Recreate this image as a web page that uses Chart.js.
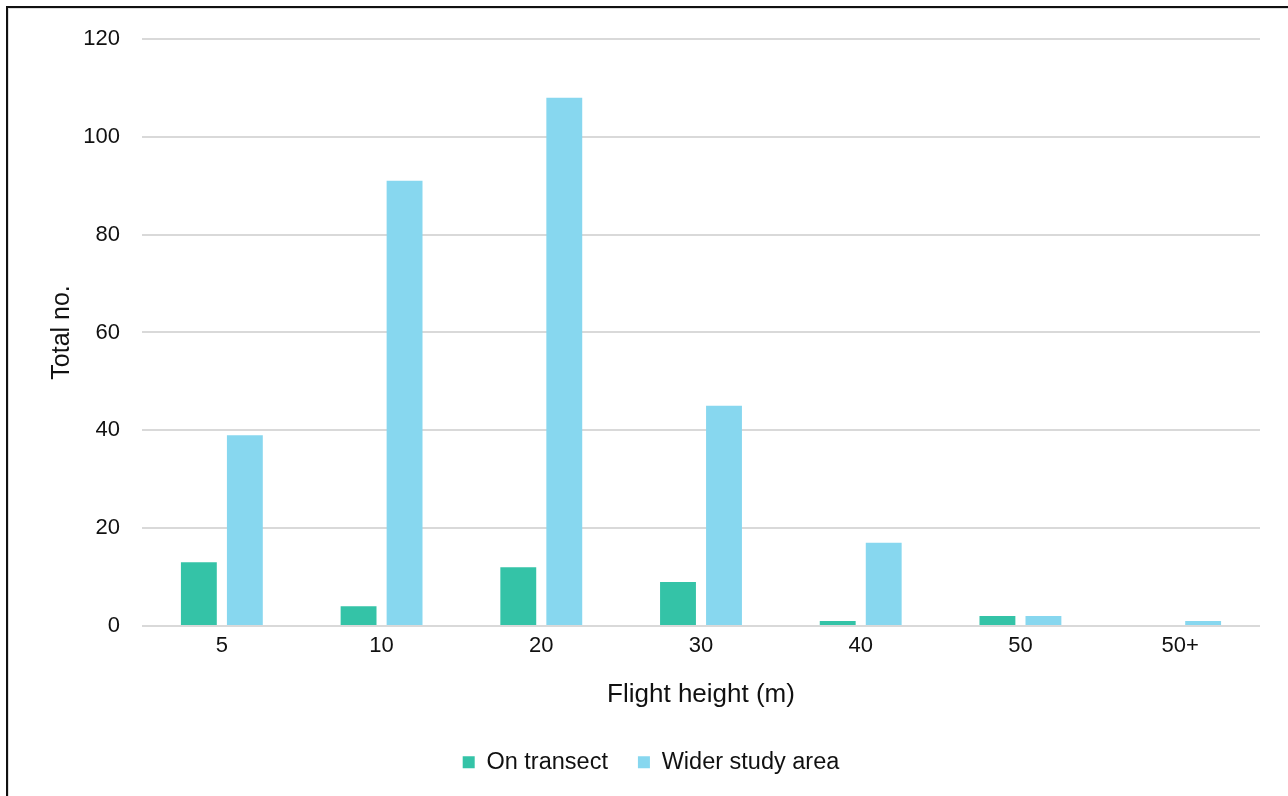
<!DOCTYPE html>
<html>
<head>
<meta charset="utf-8">
<script src="https://cdn.jsdelivr.net/npm/chart.js@4/dist/chart.umd.min.js"></script>
<style>
  html, body { margin: 0; padding: 0; background: #fff; }
  #wrap { position: relative; width: 1288px; height: 796px; }
  #frame { position: absolute; left: 6px; top: 6px; right: 0; bottom: 0;
           border-left: 2px solid #111; border-top: 2px solid #111; pointer-events: none; }
  #frame::after { content: ''; position: absolute; left: 0; top: 0; right: 0; bottom: 0;
           border-left: 1px solid #ddd; border-top: 1px solid #ddd; }
</style>
</head>
<body>
<div id="wrap">
  <canvas id="chart" width="1288" height="796"></canvas>
  <div id="frame"></div>
</div>
<script>
// categorías y series
const heights = ['5', '10', '20', '30', '40', '50', '50+'];
const onTransect = [13, 4, 12, 9, 1, 2, 0];
const widerArea = [39, 91, 108, 45, 17, 2, 1];
const yTicks = [0, 20, 40, 60, 80, 100, 120];

const font = 'Liberation Sans, Arial, sans-serif';

// desplazar la leyenda un poco a la derecha, como en el original
const legendShift = {
    id: 'legendShift',
    afterLayout(chart) {
        chart.legend.left += 21;
        chart.legend.right += 21;
    }
};

let ctx = document.getElementById('chart').getContext('2d');
let chart = new Chart(ctx, {
    type: 'bar',
    data: {
        labels: heights,
        datasets: [{
            label: 'On transect',
            data: onTransect,
            backgroundColor: '#34c3a7',
            categoryPercentage: 0.576,
            barPercentage: 0.78
        }, {
            label: 'Wider study area',
            data: widerArea,
            backgroundColor: '#87d7ef',
            categoryPercentage: 0.576,
            barPercentage: 0.78
        }]
    },
    plugins: [legendShift],
    options: {
        responsive: false,
        animation: false,
        layout: { padding: { top: 39, right: 28, left: 0, bottom: 12 } },
        plugins: {
            tooltip: { enabled: false },
            legend: {
                position: 'bottom',
                labels: {
                    color: '#111',
                    font: { family: font, size: 23.5 },
                    boxWidth: 12,
                    boxHeight: 12,
                    padding: 30
                }
            }
        },
        scales: {
            x: {
                grid: { display: false, drawTicks: false },
                border: { display: false },
                ticks: { color: '#111', font: { family: font, size: 22 }, padding: 7, maxRotation: 0 },
                title: { display: true, text: 'Flight height (m)', color: '#111',
                         font: { family: font, size: 26 }, padding: { top: 13, bottom: 10 } }
            },
            y: {
                min: 0,
                max: 120,
                afterBuildTicks: axis => { axis.ticks = yTicks.map(v => ({ value: v })); },
                afterFit: axis => { axis.width = 142; },
                grid: { color: '#d9d9d9', lineWidth: 2, drawTicks: false },
                border: { display: false },
                ticks: { color: '#111', font: { family: font, size: 22 }, padding: 22 },
                title: { display: true, text: 'Total no.', color: '#111',
                         font: { family: font, size: 25 }, padding: { top: 47, bottom: 0 } }
            }
        }
    }
});
</script>
</body>
</html>
